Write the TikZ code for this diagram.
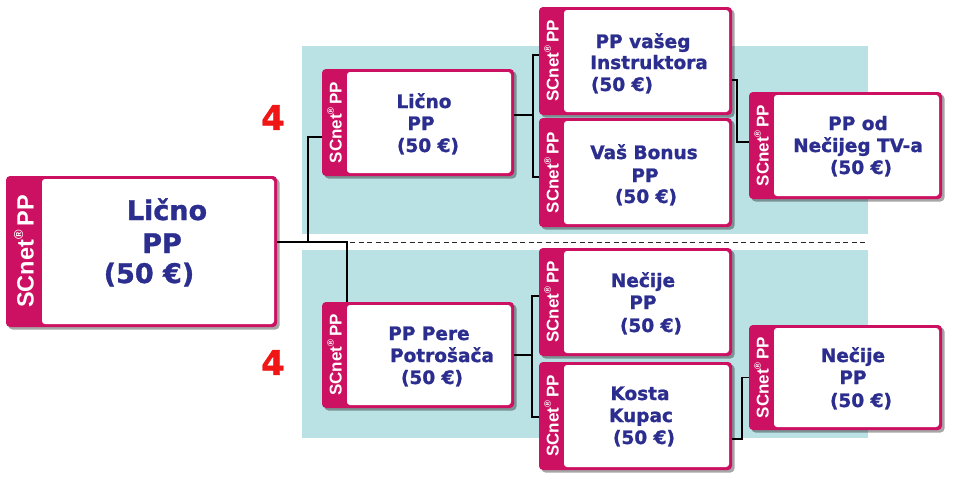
\documentclass[tikz,border=0pt]{standalone}
\usepackage{fontspec}
\setmainfont{DejaVu Sans}[BoldFeatures={FakeBold=1.2}]
\newfontfamily\stripfont{Liberation Sans}
\usetikzlibrary{shadows}
\definecolor{mag}{RGB}{205,17,98}
\definecolor{bgteal}{RGB}{186,225,227}
\definecolor{txtblue}{RGB}{43,46,142}
\definecolor{redfour}{RGB}{240,22,22}
\tikzset{
  card/.style={rectangle, fill=mag, rounded corners=4pt, inner sep=0pt, outer sep=0pt,
    drop shadow={shadow xshift=2.5pt, shadow yshift=-2.5pt, opacity=0.35, fill=black}},
  striptxt/.style={text=white, inner sep=0pt, rotate=90},
  txt/.style={text=txtblue, anchor=base, inner sep=0pt, font=\bfseries\fontsize{18.5}{22}\selectfont},
  bigtxt/.style={txt, font=\bfseries\fontsize{27}{32}\selectfont},
  conn/.style={draw=black, line width=1.1pt},
  four/.style={text=redfour, inner sep=0pt, font=\bfseries\fontsize{34}{40}\selectfont},
  sep/.style={draw=black!85, line width=1pt, dash pattern=on 5pt off 3.5pt}
}
% name, cx, cy, w, h, strip width, strip font size
\newcommand\pcard[7]{%
  \node[card, minimum width=#4pt, minimum height=#5pt] (#1) at (#2,#3) {};
  \fill[white, rounded corners=3pt] ([xshift=#6pt, yshift=-3pt]#1.north west) rectangle ([xshift=-3pt, yshift=3pt]#1.south east);
  \node[striptxt] (#1s) at ([xshift={#6*0.5pt}]#1.west) {\stripfont\bfseries\fontsize{#7}{#7}\selectfont SCnet\raisebox{0.45em}{\fontsize{0.55\dimexpr#7pt\relax}{1}\selectfont ®}\,PP};
}
\begin{document}
\begin{tikzpicture}[x=1pt, y=-1pt]
\useasboundingbox (0,0) rectangle (953,485);
% backgrounds
\fill[bgteal] (302,46) rectangle (868,234);
\fill[bgteal] (302,250) rectangle (868,438);
\coordinate (d0) at (350,242);
\coordinate (d1) at (867,242);
\draw[sep] (d0) -- (d1);
% cards
\pcard{c1}{141.5}{251.5}{271}{151}{36}{23.5}
\pcard{c2}{418}{122.5}{192}{107}{25}{17}
\pcard{c3}{635.5}{61}{193}{108}{25}{17}
\pcard{c4}{635.5}{172.5}{193}{109}{25}{17}
\pcard{c5}{418}{355}{192}{106}{25}{17}
\pcard{c6}{845.5}{145.5}{193}{107}{25}{17}
\pcard{c7}{635.5}{302}{193}{108}{25}{17}
\pcard{c8}{635.5}{416}{193}{108}{25}{17}
\pcard{c9}{845.5}{377.5}{193}{105}{25}{17}
% texts
\node[bigtxt] (c1a) at (167,220) {Lično};
\node[bigtxt] (c1b) at (162,253) {PP};
\node[bigtxt] (c1c) at (149,283) {(50 €)};
\node[txt] (c2a) at (424,108) {Lično};
\node[txt] (c2b) at (421,130) {PP};
\node[txt] (c2c) at (428,152) {(50 €)};
\node[txt] (c3a) at (643,48) {PP vašeg};
\node[txt] (c3b) at (649,69) {Instruktora};
\node[txt] (c3c) at (622,91) {(50 €)};
\node[txt] (c4a) at (644,159) {Vaš Bonus};
\node[txt] (c4b) at (645,182) {PP};
\node[txt] (c4c) at (646,203) {(50 €)};
\node[txt] (c6a) at (858,130) {PP od};
\node[txt] (c6b) at (858,152) {Nečijeg TV-a};
\node[txt] (c6c) at (861,174) {(50 €)};
\node[txt] (c5a) at (429,340) {PP Pere};
\node[txt] (c5b) at (442,362) {Potrošača};
\node[txt] (c5c) at (432,384) {(50 €)};
\node[txt] (c7a) at (643,287) {Nečije};
\node[txt] (c7b) at (643,309) {PP};
\node[txt] (c7c) at (651,332) {(50 €)};
\node[txt] (c8a) at (640,400) {Kosta};
\node[txt] (c8b) at (641,422) {Kupac};
\node[txt] (c8c) at (644,444) {(50 €)};
\node[txt] (c9a) at (853,362) {Nečije};
\node[txt] (c9b) at (853,384) {PP};
\node[txt] (c9c) at (861,407) {(50 €)};
% connectors
\coordinate (j0) at (308,242);
\coordinate (j1) at (347,242);
\coordinate (j2) at (533,115);
\coordinate (j3) at (532,355);
\draw[conn] ([yshift=9.5pt]c1.east) -- (j1) -- (c5.north -| j1);
\draw[conn] (j0) |- ([yshift=-14.5pt]c2.west);
\draw[conn] ([yshift=7.5pt]c2.east) -- (j2);
\draw[conn] ([yshift=6pt]c3.west) -| (j2) |- ([yshift=-4.5pt]c4.west);
\draw[conn] ([yshift=-19pt]c3.east) -- ++(5,0) |- ([yshift=3.5pt]c6.west);
\draw[conn] (c5.east) -- (j3);
\draw[conn] ([yshift=6pt]c7.west) -| (j3) |- ([yshift=-1pt]c8.west);
\draw[conn] ([yshift=-23pt]c8.east) -- ++(10,0) |- (c9.west);
% numbers
\node[four] (n4a) at (273,117.5) {4};
\node[four] (n4b) at (273,362.5) {4};
\end{tikzpicture}
\end{document}
